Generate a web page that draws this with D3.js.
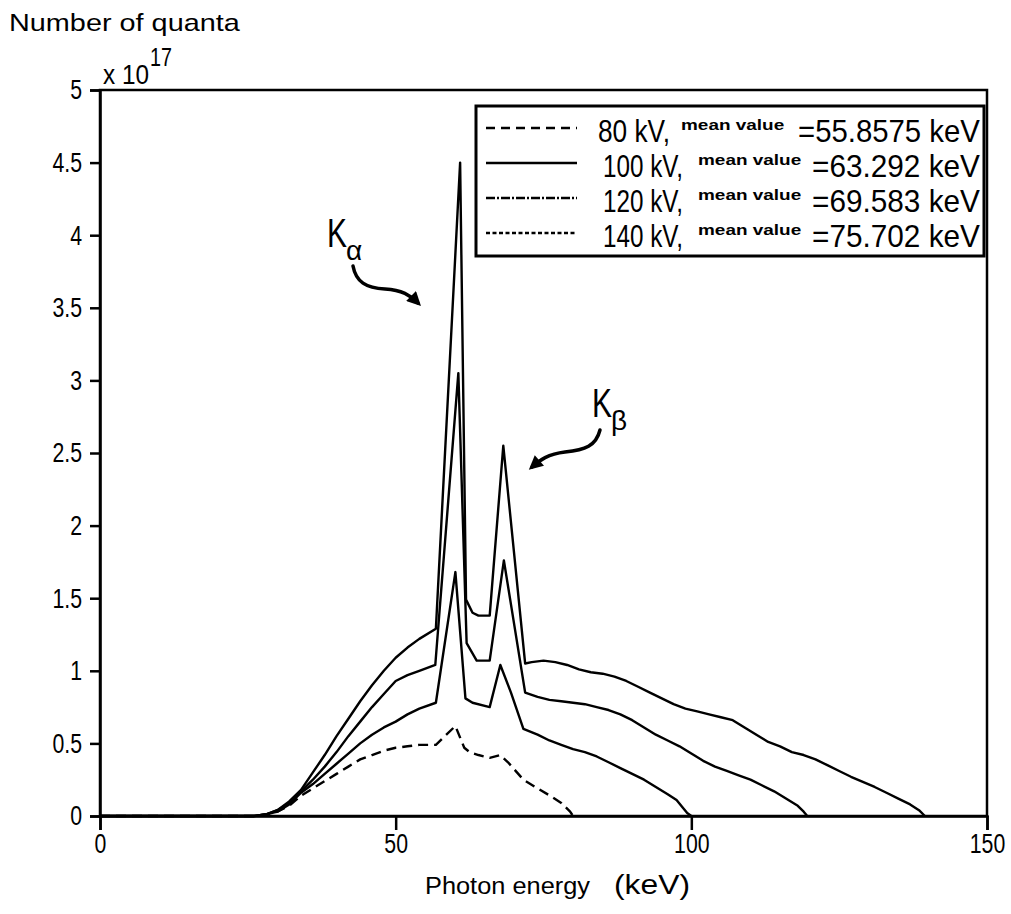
<!DOCTYPE html>
<html><head><meta charset="utf-8">
<script src="https://cdn.jsdelivr.net/npm/d3@7"></script>
<style>
body{margin:0;background:#fff;}
svg{display:block;}
text{font-family:"Liberation Sans",Arial,sans-serif;}
</style></head>
<body>
<svg id="chart" width="1011" height="914"></svg>
<script>
// ---- data ----
const series = ["80 kV", "100 kV", "120 kV", "140 kV"];
const meanValues = ["55.8575", "63.292", "69.583", "75.702"];

const e80 = [0, 26, 28, 30, 32, 34, 36, 38, 40, 42, 44, 46, 48, 50, 52, 54, 56.8, 60.1, 61.6, 62.5, 64, 65.9, 67.7, 69, 71.6, 74, 76.1, 78, 79.5, 80];
const v80 = [0, 0, 0.01, 0.03, 0.07, 0.14, 0.19, 0.24, 0.29, 0.34, 0.39, 0.42, 0.45, 0.47, 0.48, 0.49, 0.49, 0.62, 0.47, 0.44, 0.42, 0.40, 0.42, 0.37, 0.25, 0.19, 0.14, 0.09, 0.03, 0];

const e100 = [0, 26, 28, 30, 32, 34, 36, 38, 40, 42, 44, 46, 48, 50, 52, 54, 56.8, 60.1, 61.8, 63, 65.9, 67.7, 69.5, 71.6, 74, 76, 78, 80, 82, 84, 86, 88, 90, 92, 94, 96, 97.5, 98.5, 99.3, 100];
const v100 = [0, 0, 0.01, 0.03, 0.08, 0.16, 0.22, 0.29, 0.36, 0.43, 0.50, 0.56, 0.61, 0.65, 0.70, 0.74, 0.78, 1.68, 0.81, 0.78, 0.75, 1.04, 0.85, 0.60, 0.56, 0.52, 0.49, 0.46, 0.44, 0.41, 0.37, 0.33, 0.29, 0.25, 0.20, 0.15, 0.11, 0.06, 0.02, 0];

const e120 = [0, 26, 28, 30, 32, 34, 36, 38, 40, 42, 44, 46, 48, 50, 52, 54, 56.7, 60.6, 62.0, 63.7, 65.9, 68.3, 71.9, 74, 76, 78, 80, 82, 84, 86, 88, 90, 92, 94, 96, 98, 100, 102, 104, 106, 108, 110, 112, 114, 116, 118, 119, 119.6];
const v120 = [0, 0, 0.01, 0.04, 0.09, 0.17, 0.25, 0.34, 0.44, 0.55, 0.65, 0.75, 0.84, 0.93, 0.97, 1.00, 1.04, 3.05, 1.19, 1.07, 1.07, 1.76, 0.85, 0.82, 0.80, 0.79, 0.78, 0.77, 0.75, 0.73, 0.70, 0.66, 0.61, 0.56, 0.52, 0.48, 0.43, 0.38, 0.34, 0.31, 0.28, 0.25, 0.21, 0.17, 0.12, 0.07, 0.03, 0];

const e140 = [0, 26, 28, 30, 32, 34, 36, 38, 40, 42, 44, 46, 48, 50, 52, 54, 56.8, 60.9, 61.9, 63.0, 64, 65.9, 68.2, 71.9, 73, 75, 77, 79, 81, 83, 85, 87, 89, 91, 93, 95, 97, 99, 101, 103, 105, 107, 109, 111, 113, 115, 117, 119, 121, 123, 125, 127, 129, 131, 133, 135, 137, 138.5, 139.5];
const v140 = [0, 0, 0.01, 0.04, 0.10, 0.18, 0.30, 0.42, 0.55, 0.67, 0.79, 0.90, 1.00, 1.09, 1.16, 1.22, 1.29, 4.50, 1.49, 1.40, 1.38, 1.38, 2.55, 1.05, 1.06, 1.07, 1.06, 1.04, 1.01, 0.99, 0.98, 0.96, 0.93, 0.89, 0.85, 0.81, 0.77, 0.74, 0.72, 0.70, 0.68, 0.66, 0.61, 0.56, 0.51, 0.48, 0.44, 0.42, 0.39, 0.35, 0.31, 0.27, 0.235, 0.20, 0.16, 0.12, 0.08, 0.04, 0];

const xTicks = [0, 50, 100, 150];
const yTicks = [0, 0.5, 1, 1.5, 2, 2.5, 3, 3.5, 4, 4.5, 5];

const energies = [e80, e100, e120, e140];
const values = [v80, v100, v120, v140];
const plotDash = ["10,6", null, null, null];
const legendDash = ["9,6", null, "9,2,2,2", "4,2.5"];

// ---- helpers ----
// draw text horizontally compressed to a target width (condensed look)
function fitText(parent, x, y, str, size, width, anchor) {
  const g = parent.append("g").attr("transform", `translate(${x},${y})`);
  const t = g.append("text").attr("font-size", size).attr("text-anchor", anchor || "start").text(str);
  const w = t.node().getComputedTextLength();
  t.attr("transform", `scale(${width / w},1)`);
  return t;
}

// ---- layout ----
const svg = d3.select("#chart");
const L = 100, R = 987, T = 90, B = 816;
const x = d3.scaleLinear().domain([0, 150]).range([L, R]);
const y = d3.scaleLinear().domain([0, 5]).range([B, T]);

// frame
svg.append("rect").attr("x", L).attr("y", T).attr("width", R - L).attr("height", B - T)
  .attr("fill", "none").attr("stroke", "#000").attr("stroke-width", 2.5);

// axes
const xAxis = svg.append("g").attr("transform", `translate(0,${B})`)
  .call(d3.axisBottom(x).tickValues(xTicks).tickSize(14).tickPadding(3).tickFormat(d => String(d)));
const yAxis = svg.append("g").attr("transform", `translate(${L},0)`)
  .call(d3.axisLeft(y).tickValues(yTicks).tickSize(10).tickPadding(8).tickFormat(d => String(d)));
const condense = 0.76;
[xAxis, yAxis].forEach(g => {
  g.select(".domain").attr("stroke", "#000").attr("stroke-width", 2.5);
  g.selectAll(".tick line").attr("stroke", "#000").attr("stroke-width", 2.5);
  g.selectAll(".tick text").attr("font-family", "Liberation Sans, Arial, sans-serif")
    .attr("font-size", 28).attr("fill", "#000")
    .each(function () {
      const t = d3.select(this);
      const ox = +t.attr("x") || 0;
      t.attr("x", ox / condense).attr("transform", `scale(${condense},1)`);
    });
});

// curves
const line = d3.line().x(d => x(d[0])).y(d => y(d[1]));
series.forEach((s, i) => {
  const pts = energies[i].map((e, j) => [e, values[i][j]]);
  svg.append("path").datum(pts).attr("d", line)
    .attr("fill", "none").attr("stroke", "#000").attr("stroke-width", 2.4)
    .attr("stroke-linejoin", "round")
    .attr("stroke-dasharray", plotDash[i]);
});

// axis titles
fitText(svg, 9, 31, "Number of quanta", 24, 231);
fitText(svg, 103, 84, "x 10", 28, 46);
fitText(svg, 150, 66, "17", 26, 22);
fitText(svg, 425, 894, "Photon energy", 24, 165);
fitText(svg, 614, 894, "(keV)", 28, 76);

// legend
const lg = svg.append("g");
lg.append("rect").attr("x", 476).attr("y", 106).attr("width", 508).attr("height", 150)
  .attr("fill", "#fff").attr("stroke", "#000").attr("stroke-width", 3);
series.forEach((s, i) => {
  const by = 142 + i * 35;
  lg.append("line").attr("x1", 486).attr("x2", 577).attr("y1", by - 14).attr("y2", by - 14)
    .attr("stroke", "#000").attr("stroke-width", 2.4).attr("stroke-dasharray", legendDash[i]);
  fitText(lg, i === 0 ? 598 : 603, by, s + ",", 32, i === 0 ? 72 : 80);
  fitText(lg, i === 0 ? 681 : 698, by - 12, "mean value", 14, 98).attr("font-weight", "bold");
  fitText(lg, i === 0 ? 798 : 812, by, "=" + meanValues[i] + " keV", 32, i === 0 ? 182 : 168);
});

// annotations
svg.append("defs").append("marker").attr("id", "arrow").attr("viewBox", "0 0 10 10")
  .attr("refX", 7).attr("refY", 5).attr("markerWidth", 5).attr("markerHeight", 4).attr("orient", "auto")
  .append("path").attr("d", "M0,0 L10,5 L0,10 z").attr("fill", "#000");
function annot(kx, ky, sub, pathD) {
  fitText(svg, kx, ky, "K", 40, 20);
  svg.append("text").attr("x", kx + 19).attr("y", ky + 13).attr("font-family", "DejaVu Sans, sans-serif")
    .attr("font-size", 28).text(sub);
  svg.append("path").attr("d", pathD).attr("fill", "none").attr("stroke", "#000").attr("stroke-width", 3.5)
    .attr("stroke-linecap", "round").attr("marker-end", "url(#arrow)");
}
annot(327, 247, "α", "M353,266 C356,282 366,288 385,289 C402,290 410,295 418,303");
annot(592, 417, "β", "M600,430 C596,446 585,450 565,452 C548,454 540,460 532,467");
</script>
</body></html>
